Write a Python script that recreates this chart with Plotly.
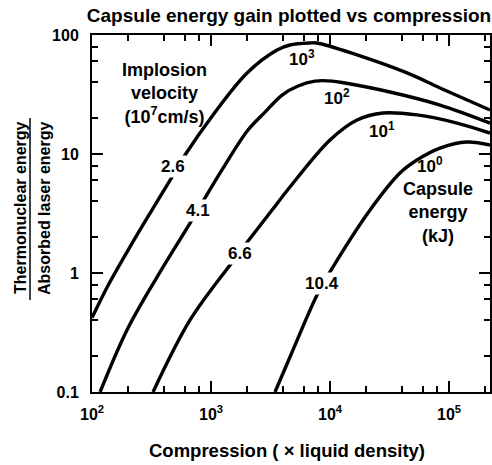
import numpy as np
import plotly.graph_objects as go

# ---- data (compression, gain) ----
a_x = [100, 134, 208, 319, 470, 605, 1040, 2010, 3590, 4610, 6790, 7780, 16870, 44360, 84000, 221000]
a_y = [0.42, 0.76, 1.65, 3.38, 6.4, 9.8, 21.3, 48, 74.8, 82.4, 85.7, 85.7, 68, 48, 35.9, 23.4]

b_x = [117, 197, 352, 667, 1236, 2046, 2844, 3956, 5387, 7482, 10400, 13360, 31900, 84000, 221000]
b_y = [0.1, 0.332, 0.925, 2.63, 7.35, 15.9, 22.5, 31.3, 37.3, 41.0, 41.0, 39.5, 33.2, 25.8, 18.2]

c_x = [326, 667, 1445, 2010, 3260, 4610, 10000, 16870, 27900, 53800, 116700, 221000]
c_y = [0.1, 0.403, 1.17, 1.81, 3.38, 5.28, 13.1, 19.3, 22.1, 21.3, 18.2, 15.0]

d_x = [3450, 4610, 7780, 10000, 21700, 38700, 53800, 84000, 141600, 221000]
d_y = [0.1, 0.197, 0.653, 1.02, 3.38, 6.92, 8.9, 11.2, 12.6, 11.9]

velocity_labels = ["2.6", "4.1", "6.6", "10.4"]
velocity_pos = [(480, 7.8), (778, 3.32), (1754, 1.47), (8570, 0.824)]
energy_labels = ["10<sup>3</sup>", "10<sup>2</sup>", "10<sup>1</sup>", "10<sup>0</sup>"]
energy_pos = [(5820, 64), (11460, 30.1), (27360, 15.9), (69200, 8.1)]

x_tickvals = [1e2, 1e3, 1e4, 1e5]
x_ticktext = ["10<sup>2</sup>", "10<sup>3</sup>", "10<sup>4</sup>", "10<sup>5</sup>"]
y_tickvals = [0.1, 1, 10, 100]
y_ticktext = ["0.1", "1", "10", "100"]

FONT = "Liberation Sans, Arial, sans-serif"

def bold(size):
    return dict(family=FONT, size=size, color="black", weight="bold")

fig = go.Figure()
for xs, ys in [(a_x, a_y), (b_x, b_y), (c_x, c_y), (d_x, d_y)]:
    fig.add_trace(go.Scatter(x=xs, y=ys, mode="lines",
                             line=dict(color="black", width=3.4, shape="spline", smoothing=1.0),
                             hoverinfo="skip", showlegend=False, cliponaxis=True))

ann = []
for t, (x, y) in zip(velocity_labels, velocity_pos):
    ann.append(dict(x=np.log10(x), y=np.log10(y), xref="x", yref="y", text=t, showarrow=False,
                    bgcolor="white", borderpad=1, font=bold(17)))
for t, (x, y) in zip(energy_labels, energy_pos):
    ann.append(dict(x=np.log10(x), y=np.log10(y), xref="x", yref="y", text=t, showarrow=False,
                    font=bold(17)))

def px_to_paper(px, py):
    return (px - 92) / 398.0, (392 - py) / 357.0

for text, (px, py), size in [
    ("Implosion<br>velocity<br>(10<sup>7</sup>cm/s)", (164, 93), 18),
    ("Capsule<br>energy<br>(kJ)", (438, 212), 18),
    ("Compression ( × liquid density)", (287, 450), 18.5),
]:
    xp, yp = px_to_paper(px, py)
    ann.append(dict(x=xp, y=yp, xref="paper", yref="paper", text=text, showarrow=False,
                    xanchor="center", yanchor="middle", font=bold(size)))

for text, px in [("Thermonuclear energy", 20), ("Absorbed laser energy", 44)]:
    xp, yp = px_to_paper(px, 208)
    ann.append(dict(x=xp, y=yp, xref="paper", yref="paper", text=text, showarrow=False,
                    textangle=-90, xanchor="center", yanchor="middle", font=bold(16)))

bx, by0 = px_to_paper(30, 118)
_, by1 = px_to_paper(30, 300)
shapes = [dict(type="line", xref="paper", yref="paper", x0=bx, x1=bx, y0=by1, y1=by0,
               line=dict(color="black", width=1.5))]

minor_x = [m * 10 ** k for k in range(2, 6) for m in (2, 4, 6, 8)]
minor_y = [m * 10 ** k for k in range(-1, 2) for m in (2, 4, 6, 8)]

axis_common = dict(showline=True, linewidth=2, linecolor="black", mirror="ticks",
                   ticks="inside", ticklen=11, tickwidth=1.5, tickcolor="black",
                   showgrid=False, zeroline=False, automargin=False, tickfont=bold(16))

fig.update_layout(
    width=492, height=465,
    margin=dict(l=92, r=2, t=35, b=73, autoexpand=False),
    paper_bgcolor="white", plot_bgcolor="white",
    title=dict(text="Capsule energy gain plotted vs compression", x=0.495, xref="paper",
               y=1 - 15 / 465, yref="container", xanchor="center", yanchor="middle",
               font=bold(19), automargin=False),
    xaxis=dict(type="log", range=[2, np.log10(221000)], tickmode="array",
               tickvals=x_tickvals, ticktext=x_ticktext, ticklabelstandoff=7,
               minor=dict(tickmode="array", tickvals=minor_x, ticks="inside", ticklen=6,
                          tickwidth=1.5, tickcolor="black", showgrid=False),
               **axis_common),
    yaxis=dict(type="log", range=[-1, 2], tickmode="array",
               tickvals=y_tickvals, ticktext=y_ticktext, ticklabelstandoff=8,
               minor=dict(tickmode="array", tickvals=minor_y, ticks="inside", ticklen=6,
                          tickwidth=1.5, tickcolor="black", showgrid=False),
               **axis_common),
    annotations=ann, shapes=shapes, showlegend=False,
)

fig.write_html("out.html", config={"displayModeBar": False},
               post_script="document.body.style.margin='0';document.body.style.overflow='hidden';")
